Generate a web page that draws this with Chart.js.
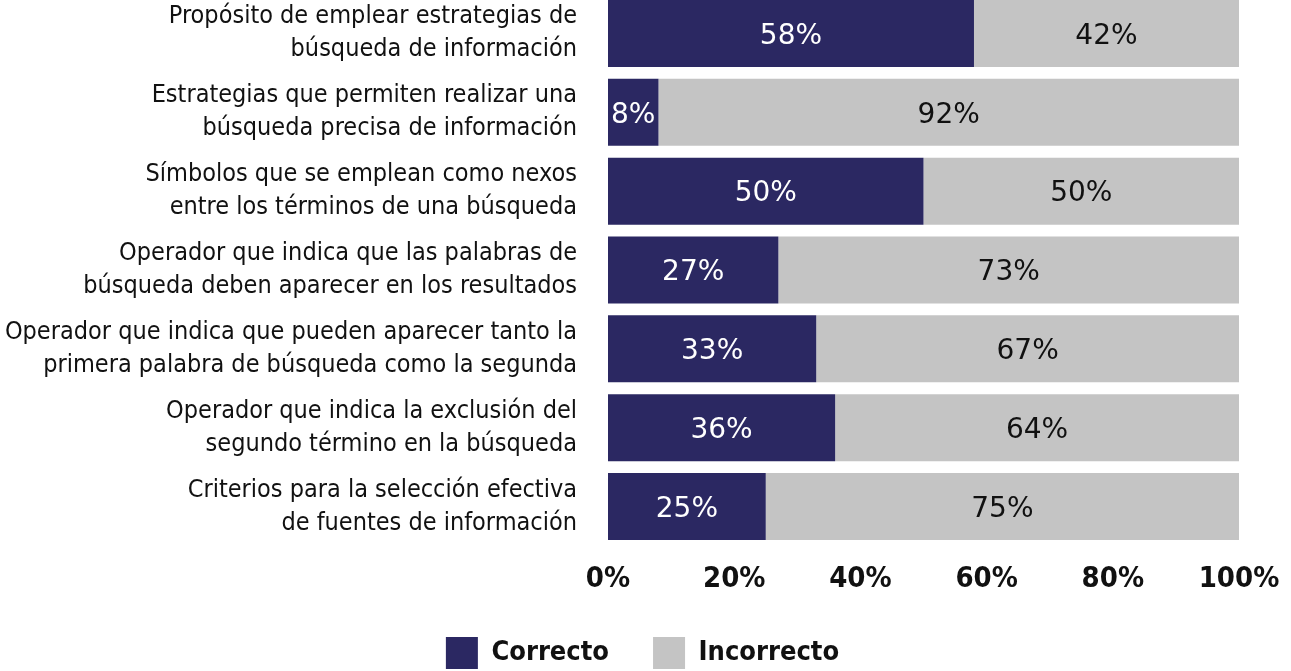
<!DOCTYPE html>
<html>
<head>
<meta charset="utf-8">
<script src="https://cdn.jsdelivr.net/npm/chart.js@4.4.0/dist/chart.umd.min.js"></script>
<style>
  html, body { margin: 0; padding: 0; background: #fff; }
  #frame { width: 1291px; height: 671px; position: relative; overflow: hidden; }
  #wrap { width: 1291px; height: 677px; position: absolute; left: 0; top: -6px; }
</style>
</head>
<body>
<div id="frame"><div id="wrap"><canvas id="myChart"></canvas></div></div>
<script>
// categorias (cada una en dos lineas)
var categories = [
    ['Propósito de emplear estrategias de', 'búsqueda de información'],
    ['Estrategias que permiten realizar una', 'búsqueda precisa de información'],
    ['Símbolos que se emplean como nexos', 'entre los términos de una búsqueda'],
    ['Operador que indica que las palabras de', 'búsqueda deben aparecer en los resultados'],
    ['Operador que indica que pueden aparecer tanto la', 'primera palabra de búsqueda como la segunda'],
    ['Operador que indica la exclusión del', 'segundo término en la búsqueda'],
    ['Criterios para la selección efectiva', 'de fuentes de información']
];
var seriesNames = ['Correcto', 'Incorrecto'];
var correcto = [58, 8, 50, 27, 33, 36, 25];
var incorrecto = [42, 92, 50, 73, 67, 64, 75];
var xTicks = [0, 20, 40, 60, 80, 100];

var narrow = '"Liberation Sans Narrow", "DejaVu Sans Condensed", "Noto Sans", sans-serif';

// etiquetas de categoria (dos lineas, alineadas a la derecha)
var categoryLabels = {
    id: 'categoryLabels',
    afterLayout: function (chart) {
        // la leyenda de Chart.js queda un poco a la izquierda, la centramos
        if (chart.legend) {
            chart.legend.left += 23;
            chart.legend.right += 23;
        }
    },
    afterDraw: function (chart) {
        var ctx = chart.ctx;
        var yScale = chart.scales.y;
        ctx.save();
        ctx.font = '25px ' + narrow;
        ctx.fillStyle = '#111111';
        ctx.textAlign = 'right';
        ctx.textBaseline = 'middle';
        chart.data.labels.forEach(function (lines, i) {
            var cy = yScale.getPixelForValue(i);
            var start = cy - (lines.length - 1) * 33 / 2;
            lines.forEach(function (line, k) {
                ctx.fillText(line, chart.chartArea.left - 31, start + k * 33);
            });
        });
        ctx.restore();
    }
};

// etiquetas de porcentaje dentro de cada segmento
var segmentLabels = {
    id: 'segmentLabels',
    afterDatasetsDraw: function (chart) {
        var ctx = chart.ctx;
        ctx.save();
        ctx.font = '28px "DejaVu Sans", "Noto Sans", sans-serif';
        ctx.textAlign = 'center';
        ctx.textBaseline = 'middle';
        chart.data.datasets.forEach(function (ds, di) {
            var meta = chart.getDatasetMeta(di);
            meta.data.forEach(function (bar, i) {
                var cx = (bar.x + bar.base) / 2;
                ctx.fillStyle = di === 0 ? '#ffffff' : '#111111';
                ctx.fillText(ds.data[i] + '%', cx, bar.y + 3);
            });
        });
        ctx.restore();
    }
};

var chartData = {
    labels: categories,
    datasets: [
        {
            label: seriesNames[0],
            data: correcto,
            backgroundColor: '#2b2862',
            borderWidth: 0,
            barPercentage: 1,
            categoryPercentage: 0.85
        },
        {
            label: seriesNames[1],
            data: incorrecto,
            backgroundColor: '#c4c4c4',
            borderWidth: 0,
            barPercentage: 1,
            categoryPercentage: 0.85
        }
    ]
};

var chartOptions = {
    indexAxis: 'y',
    responsive: true,
    maintainAspectRatio: false,
    animation: false,
    layout: { padding: { top: 0, right: 52, left: 0, bottom: -8 } },
    plugins: {
        tooltip: { enabled: false },
        legend: {
            position: 'bottom',
            labels: {
                boxWidth: 32,
                boxHeight: 32,
                padding: 44,
                color: '#111',
                font: { family: narrow, size: 27, weight: 'bold' }
            }
        }
    },
    scales: {
        x: {
            stacked: true,
            min: 0,
            max: 100,
            afterBuildTicks: function (axis) {
                axis.ticks = xTicks.map(function (v) { return { value: v }; });
            },
            afterFit: function (axis) {
                axis.height = 47;
                axis.paddingLeft = 0;
                axis.paddingRight = 0;
            },
            grid: { display: false, drawTicks: false },
            border: { display: false },
            ticks: {
                padding: 16,
                color: '#111',
                maxRotation: 0,
                font: { family: narrow, size: 29, weight: 'bold' },
                callback: function (v) { return v + '%'; }
            }
        },
        y: {
            stacked: true,
            afterFit: function (axis) { axis.width = 608; },
            grid: { display: false, drawTicks: false },
            border: { display: false },
            ticks: { display: false }
        }
    }
};

var ctx = document.getElementById('myChart').getContext('2d');
var myNewChart = new Chart(ctx, {
    type: 'bar',
    data: chartData,
    options: chartOptions,
    plugins: [segmentLabels, categoryLabels]
});
</script>
</body>
</html>
